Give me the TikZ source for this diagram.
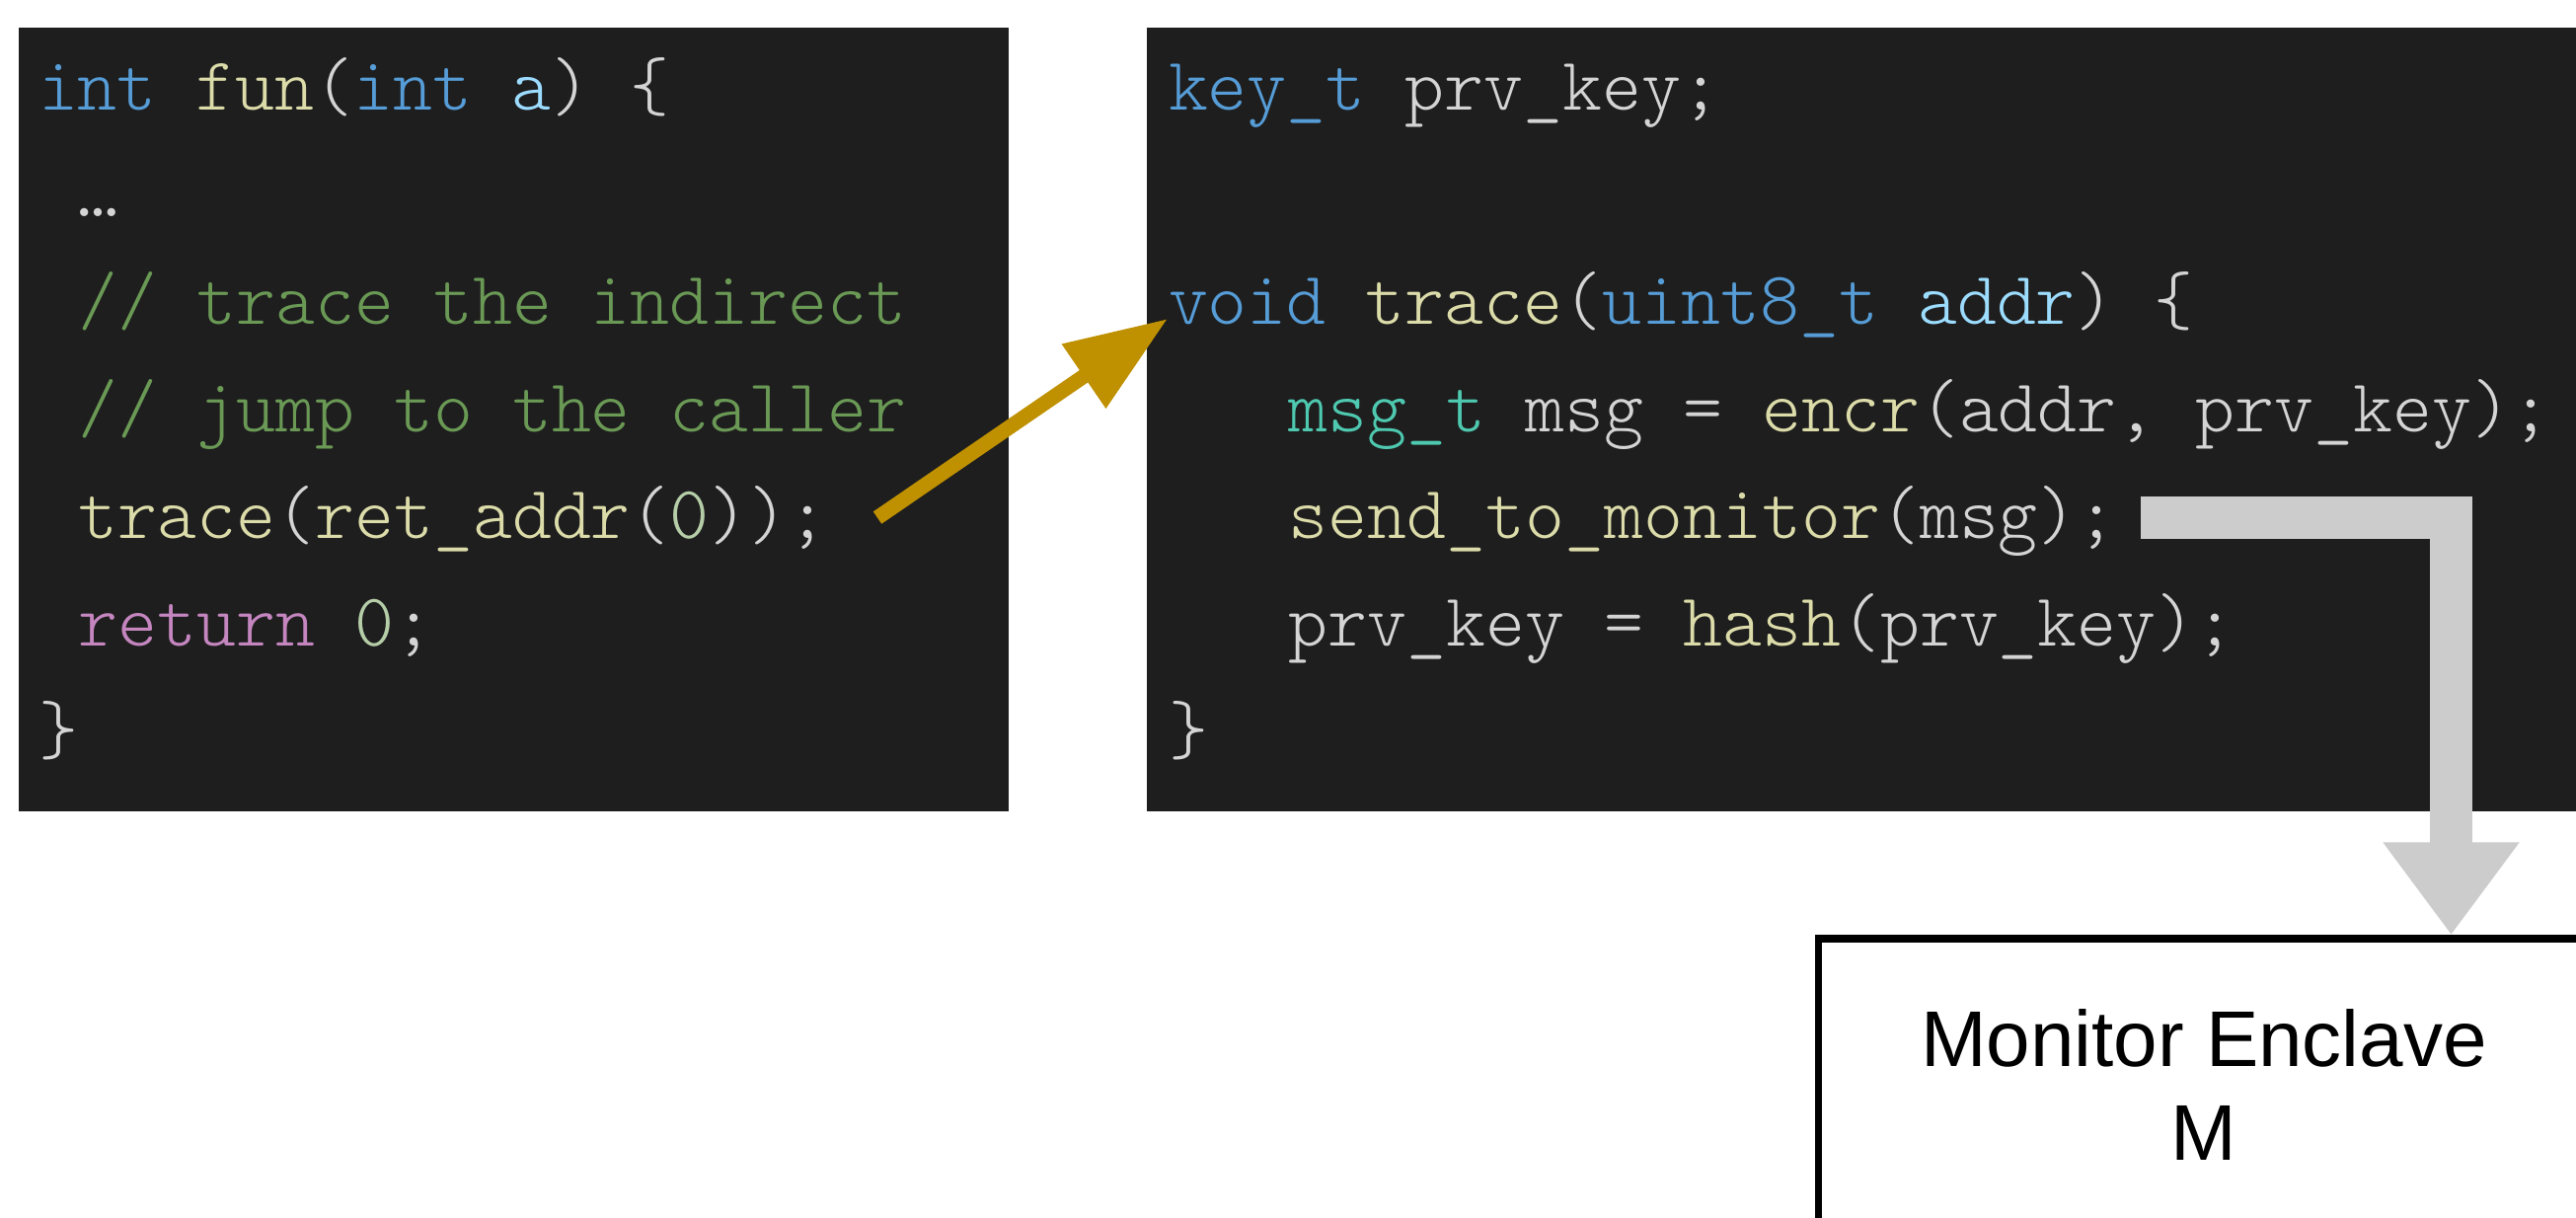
\documentclass[tikz,border=0pt]{standalone}
\usepackage{fontspec}
\usetikzlibrary{arrows.meta}
\newfontfamily\monsans{Liberation Sans}
\newfontfamily\lmlight{Latin Modern Mono Light}
\definecolor{codebg}{HTML}{1E1E1E}
\definecolor{ckwc}{HTML}{569CD6}
\definecolor{cfnc}{HTML}{DCDCAA}
\definecolor{cpac}{HTML}{9CDCFE}
\definecolor{ctxc}{HTML}{D4D4D4}
\definecolor{ccmc}{HTML}{6A9955}
\definecolor{cctc}{HTML}{C586C0}
\definecolor{cnuc}{HTML}{B5CEA8}
\definecolor{ctyc}{HTML}{4EC9B0}
\definecolor{goldc}{HTML}{BF9000}
\definecolor{greyc}{HTML}{CCCCCC}
\newcommand\ckw[1]{\textcolor{ckwc}{#1}}
\newcommand\cfn[1]{\textcolor{cfnc}{#1}}
\newcommand\cpa[1]{\textcolor{cpac}{#1}}
\newcommand\ccm[1]{\textcolor{ccmc}{#1}}
\newcommand\cct[1]{\textcolor{cctc}{#1}}
\newcommand\cnu[1]{\textcolor{cnuc}{#1}}
\newcommand\cty[1]{\textcolor{ctyc}{#1}}
\newcommand\mycodefont{\lmlight\fontsize{76.1}{76.1}\selectfont\frenchspacing}
\tikzset{
  panel/.style={fill=codebg, draw=none, inner sep=0pt, outer sep=0pt, anchor=north west},
  codeline/.style={anchor=base west, inner sep=0pt, outer sep=0pt, text=ctxc, font=\mycodefont},
  monbox/.style={draw=black, fill=white, line width=7.5pt, minimum width=781pt, minimum height=296pt,
    inner sep=0pt, align=center, font=\monsans\fontsize{80}{95}\selectfont},
  goldarrow/.style={draw=goldc, line width=15pt, line cap=butt, -{Triangle[length=103pt,width=75pt]}},
  greyarrow/.style={draw=greyc, line width=43pt, line cap=butt, line join=miter, -{Triangle[length=94pt,width=132pt]}}
}
\begin{document}
\begin{tikzpicture}[x=1pt,y=1pt]
\useasboundingbox (0,0) rectangle (2610,-1234);
\fill[white] (0,0) rectangle (2610,-1234);
\begin{scope}
\clip (0,0) rectangle (2610,-1234);
% panels
\node[panel, minimum width=1003pt, minimum height=794pt] (leftpanel) at (19,-28) {};
\node[panel, minimum width=1448pt, minimum height=794pt] (rightpanel) at (1162,-28) {};
% left code
\node[codeline] (l0) at (39,-111) {\ckw{int} \cfn{fun}(\ckw{int} \cpa{a}) \{};
\node[codeline] (l1) at (79.6,-219.7) {…};
\node[codeline] (l2) at (79.6,-328.4) {\ccm{// trace the indirect}};
\node[codeline] (l3) at (79.6,-437.1) {\ccm{// jump to the caller}};
\node[codeline] (l4) at (79.6,-545.8) {\cfn{trace}(\cfn{ret\_addr}(\cnu{0}));};
\node[codeline] (l5) at (79.6,-654.5) {\cct{return} \cnu{0};};
\node[codeline] (l6) at (39,-763.2) {\}};
% right code
\node[codeline] (r0) at (1184,-111) {\ckw{key\_t} prv\_key;};
\node[codeline] (r2) at (1184,-328.4) {\ckw{void} \cfn{trace}(\ckw{uint8\_t} \cpa{addr}) \{};
\node[codeline] (r3) at (1305.8,-437.1) {\cty{msg\_t} msg = \cfn{encr}(addr, prv\_key);};
\node[codeline] (r4) at (1305.8,-545.8) {\cfn{send\_to\_monitor}(msg);};
\node[codeline] (r5) at (1305.8,-654.5) {prv\_key = \cfn{hash}(prv\_key);};
\node[codeline] (r6) at (1184,-763.2) {\}};
% monitor
\node[monbox] (monitor) at (2233,-1099) {Monitor Enclave\\M};
% arrows
\coordinate (gtail) at (889,-524.5);
\coordinate (gtip) at (1183,-323);
\draw[goldarrow] (gtail) -- (gtip);
\coordinate (sendout) at (2169,-524.5);
\draw[greyarrow] (sendout) -| ([xshift=250.5pt]monitor.north);
\end{scope}
\end{tikzpicture}
\end{document}
